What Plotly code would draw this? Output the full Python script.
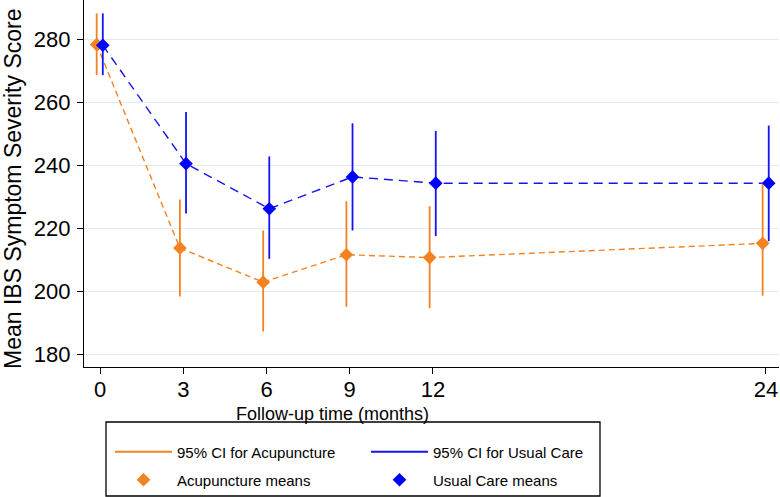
import plotly.graph_objects as go

# ---- data ----
months = [0, 3, 6, 9, 12, 24]
acu_mean = [278.4, 213.8, 203.0, 211.7, 210.8, 215.3]
acu_lo = [268.7, 198.4, 187.3, 195.2, 194.7, 198.7]
acu_hi = [288.3, 229.2, 219.4, 228.7, 227.1, 234.6]
uc_mean = [278.2, 240.6, 226.3, 236.4, 234.4, 234.4]
uc_lo = [268.7, 224.8, 210.4, 219.4, 217.6, 216.0]
uc_hi = [288.3, 257.0, 242.9, 253.4, 251.0, 252.7]
x_ticks = [0, 3, 6, 9, 12, 24]
y_ticks = [180, 200, 220, 240, 260, 280]

ORANGE = "#f58220"
BLUE = "#1414f0"
FONT = "Liberation Sans, Arial, Helvetica, sans-serif"

acu_off, uc_off = -0.12, 0.10
acu_x = [m + acu_off for m in months]
uc_x = [m + uc_off for m in months]


def ci_xy(xs, lo, hi):
    xx, yy = [], []
    for x, l, h in zip(xs, lo, hi):
        xx += [x, x, None]
        yy += [l, h, None]
    return xx, yy


fig = go.Figure()

# dashed connecting lines
fig.add_trace(go.Scatter(x=acu_x, y=acu_mean, mode="lines", showlegend=False,
                         line=dict(color=ORANGE, width=1.4, dash="6px,4px"), hoverinfo="skip"))
fig.add_trace(go.Scatter(x=uc_x, y=uc_mean, mode="lines", showlegend=False,
                         line=dict(color=BLUE, width=1.4, dash="9px,6px"), hoverinfo="skip"))

# CIs
cx, cy = ci_xy(acu_x, acu_lo, acu_hi)
fig.add_trace(go.Scatter(x=cx, y=cy, mode="lines", name="95% CI for Acupuncture",
                         line=dict(color=ORANGE, width=1.8), legend="legend"))
cx, cy = ci_xy(uc_x, uc_lo, uc_hi)
fig.add_trace(go.Scatter(x=cx, y=cy, mode="lines", name="95% CI for Usual Care",
                         line=dict(color=BLUE, width=1.8), legend="legend"))

# means
fig.add_trace(go.Scatter(x=acu_x, y=acu_mean, mode="markers", name="Acupuncture means",
                         marker=dict(symbol="diamond", size=10.5, color=ORANGE), legend="legend2"))
fig.add_trace(go.Scatter(x=uc_x, y=uc_mean, mode="markers", name="Usual Care means",
                         marker=dict(symbol="diamond", size=10.5, color="#0000ff"), legend="legend2"))

W, H = 780, 497
ml, mr, mt, mb = 84, 1, 0, 130
pw, ph = W - ml - mr, H - mt - mb


def px_x(p):
    return (p - ml) / pw


def px_y(p):
    return (H - mb - p) / ph


legend_common = dict(orientation="h", xanchor="left", yanchor="middle",
                     font=dict(family=FONT, size=15, color="black"),
                     bgcolor="rgba(0,0,0,0)", borderwidth=0, entrywidth=184,
                     itemwidth=57, traceorder="normal")

fig.update_layout(
    width=W, height=H,
    margin=dict(l=ml, r=mr, t=mt, b=mb, autoexpand=False),
    paper_bgcolor="white", plot_bgcolor="white",
    font=dict(family=FONT, color="black"),
    xaxis=dict(range=[-0.577, 24.47], tickvals=x_ticks, ticks="outside", ticklen=6,
               tickcolor="black", tickwidth=1.2, showline=True, linecolor="black",
               linewidth=1.3, showgrid=False, zeroline=False, automargin=False,
               ticklabelstandoff=-4,
               tickfont=dict(size=22, family=FONT, color="black")),
    yaxis=dict(range=[176.06, 292.55], tickvals=y_ticks, ticks="outside", ticklen=6,
               tickcolor="black", tickwidth=1.2, showline=True, linecolor="black",
               linewidth=1.3, showgrid=True, gridcolor="#e3ebf0", gridwidth=1,
               zeroline=False, automargin=False, ticklabelstandoff=2,
               tickfont=dict(size=22, family=FONT, color="black")),
    legend=dict(x=px_x(110), y=px_y(452), **legend_common),
    legend2=dict(x=px_x(110), y=px_y(480), **legend_common),
    showlegend=True,
)

fig.add_shape(type="rect", xref="paper", yref="paper",
              x0=px_x(106), x1=px_x(600), y0=px_y(496), y1=px_y(422),
              line=dict(color="black", width=1.3), fillcolor="rgba(0,0,0,0)")

fig.add_annotation(text="Follow-up time (months)", xref="paper", yref="paper",
                   x=px_x(332), y=px_y(414), xanchor="center", yanchor="middle",
                   showarrow=False, font=dict(size=18, family=FONT, color="black"))
fig.add_annotation(text="Mean IBS Symptom Severity Score", xref="paper", yref="paper",
                   x=px_x(13), y=px_y(189), xanchor="center", yanchor="middle",
                   textangle=-90, showarrow=False,
                   font=dict(size=23, family=FONT, color="black"))

fig.write_html("out.html", config={"displayModeBar": False},
               post_script="document.body.style.margin='0';document.body.style.padding='0';")
